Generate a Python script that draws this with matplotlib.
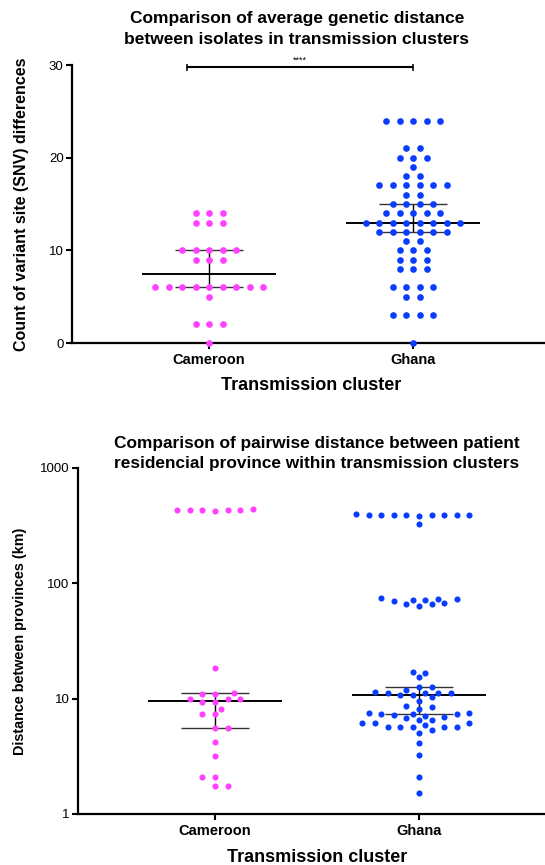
import numpy as np
import matplotlib
matplotlib.use('Agg')
import matplotlib.pyplot as plt

plt.rcParams['font.family'] = ['Liberation Sans', 'DejaVu Sans']

# ---------------- data ----------------
groups = ['Cameroon', 'Ghana']
colors = ['#FF40FF', '#0A3CFF']

# top panel: SNV differences
snv_cameroon = [14, 14, 14, 13, 13, 13, 10, 10, 10, 10, 10, 9, 9, 9,
                6, 6, 6, 6, 6, 6, 6, 6, 6, 5, 2, 2, 2, 0]
snv_ghana = [24, 24, 24, 24, 24, 21, 21, 20, 20, 20, 19, 18, 18,
             17, 17, 17, 17, 17, 17, 16, 16, 15, 15, 15, 15,
             14, 14, 14, 14, 14, 13, 13, 13, 13, 13, 13, 13, 13,
             12, 12, 12, 12, 12, 12, 11, 11, 10, 10, 10, 9, 9, 9,
             8, 8, 8, 6, 6, 6, 6, 5, 5, 3, 3, 3, 3, 0]
snv_median = [7.5, 13]
snv_low = [6, 12]
snv_high = [10, 15]
sig_label = '****'

# bottom panel: distance between provinces (km)
dist_cameroon = [433, 444, 433, 433, 425, 436, 433, 18.3, 11.3, 11.0, 11.0,
                 9.9, 9.9, 9.9, 9.4, 9.4, 8.1, 7.3, 7.3, 5.6, 5.6, 4.2, 3.2,
                 2.1, 2.1, 1.74, 1.74]
dist_ghana = [394, 400, 394, 394, 384, 395, 392, 394, 392, 394, 327,
              67.6, 75, 71.8, 72.5, 73.5, 72, 66, 70, 66, 64,
              17.1, 16.8, 15.3, 12.6, 12.5, 12.0, 11.5, 11.2, 11.2, 11.2, 11.2,
              10.7, 10.7, 10.3, 9.6, 8.65, 8.47, 8.1, 7.5, 7.4, 7.2, 7.1, 7.4,
              7.4, 7.5, 7.0, 6.8, 6.5, 6.5, 5.9, 6.1, 6.1, 6.1, 5.7, 5.7, 5.7,
              5.7, 5.4, 5.7, 5.07, 4.13, 3.23, 2.08, 1.52]
dist_median = [9.6, 10.7]
dist_low = [5.6, 7.35]
dist_high = [11.3, 12.6]

# ---------------- helpers ----------------
def swarm_x(ax, xc, values, step_px, dmin_px, rows):
    vals = np.asarray(values, dtype=float)
    pts = ax.transData.transform(np.column_stack([np.full(len(vals), xc), vals]))
    x0 = pts[0, 0]
    ys = pts[:, 1]
    order = np.argsort(ys, kind='stable')
    off = np.zeros(len(vals))
    if rows:
        grp = []
        for i in order:
            if grp and abs(ys[i] - ys[grp[-1][0]]) < 1.0:
                grp[-1].append(i)
            else:
                grp.append([i])
        for g in grp:
            n = len(g)
            for k, i in enumerate(g):
                off[i] = (k - (n - 1) / 2) * step_px
    else:
        placed = []
        flip = False
        for i in order:
            cands = [0.0]
            for k in range(1, 80):
                a, b = k * step_px / 2, -k * step_px / 2
                cands += [b, a] if flip else [a, b]
            for c in cands:
                if all((c - px) ** 2 + (ys[i] - py) ** 2 >= dmin_px ** 2 for px, py in placed):
                    break
            if c != 0:
                flip = not flip
            off[i] = c
            placed.append((c, ys[i]))
    data = ax.transData.inverted().transform(np.column_stack([x0 + off, ys]))
    return data[:, 0]


def style_axes(ax):
    for s in ['top', 'right']:
        ax.spines[s].set_visible(False)
    for s in ['left', 'bottom']:
        ax.spines[s].set_linewidth(1.6)
    ax.tick_params(axis='both', which='major', length=4.5, width=1.5, direction='out')
    ax.tick_params(axis='y', labelsize=9.5, pad=1.5)
    ax.tick_params(axis='x', labelsize=10.5, pad=2.5)
    ax.set_xticks(range(len(groups)))
    ax.set_xticklabels(groups, fontweight='bold')


def summary(ax, med, lo, hi):
    for i in range(len(groups)):
        ax.hlines(med[i], i - 0.33, i + 0.33, color='black', lw=1.4, zorder=2)
        ax.vlines(i, lo[i], hi[i], color='black', lw=1.0, zorder=2)
        ax.hlines([lo[i], hi[i]], i - 0.167, i + 0.167, color='#333333', lw=1.0, zorder=2)


W, H = 545, 865
fig = plt.figure(figsize=(W / 100, H / 100), dpi=100)

# ---------------- top panel ----------------
ax1 = fig.add_axes([72 / W, 1 - 343 / H, (W - 72) / W, (343 - 65) / H])
ax1.set_xlim(-0.6716, 1.647)
ax1.set_ylim(0, 30)
ax1.set_yticks([0, 10, 20, 30])
style_axes(ax1)
for i, vals in enumerate([snv_cameroon, snv_ghana]):
    xs = swarm_x(ax1, i, vals, 13.5, 7.5, rows=True)
    ax1.scatter(xs, vals, s=4.8 ** 2, color=colors[i], linewidths=0, zorder=3, clip_on=False)
summary(ax1, snv_median, snv_low, snv_high)
ax1.plot([-0.11, 1.0], [29.75, 29.75], color='black', lw=1.5, clip_on=False,
         solid_capstyle='butt')
ax1.plot([-0.11, -0.11], [29.45, 30.05], color='black', lw=1.2, clip_on=False)
ax1.plot([1.0, 1.0], [29.45, 30.05], color='black', lw=1.2, clip_on=False)
ax1.text(0.445, 30.05, sig_label, ha='center', va='bottom', fontsize=6.5)

fig.text(297 / W, 1 - 18 / H, 'Comparison of average genetic distance',
         ha='center', va='center', fontsize=12.5, fontweight='bold')
fig.text(297 / W, 1 - 40 / H, 'between isolates in transmission clusters',
         ha='center', va='center', fontsize=12.5, fontweight='bold')
fig.text(22 / W, 1 - 204 / H, 'Count of variant site (SNV) differences',
         ha='center', va='center', rotation=90, fontsize=11.5, fontweight='bold')
fig.text(311 / W, 1 - 386 / H, 'Transmission cluster',
         ha='center', va='center', fontsize=13, fontweight='bold')

# ---------------- bottom panel ----------------
ax2 = fig.add_axes([78 / W, 1 - 814 / H, (W - 78) / W, (814 - 468) / H])
ax2.set_yscale('log')
ax2.set_xlim(-0.6716, 1.617)
ax2.set_ylim(1, 1000)
ax2.set_yticks([1, 10, 100, 1000])
ax2.set_yticklabels(['1', '10', '100', '1000'])
ax2.yaxis.set_minor_locator(matplotlib.ticker.NullLocator())
style_axes(ax2)
for i, vals in enumerate([dist_cameroon, dist_ghana]):
    xs = swarm_x(ax2, i, vals, 12.6, 7.5, rows=False)
    ax2.scatter(xs, vals, s=4.4 ** 2, color=colors[i], linewidths=0, zorder=3, clip_on=False)
summary(ax2, dist_median, dist_low, dist_high)

fig.text(317 / W, 1 - 444 / H, 'Comparison of pairwise distance between patient',
         ha='center', va='center', fontsize=12.4, fontweight='bold')
fig.text(317 / W, 1 - 464 / H, 'residencial province within transmission clusters',
         ha='center', va='center', fontsize=12.4, fontweight='bold')
fig.text(20 / W, 1 - 641 / H, 'Distance between provinces (km)',
         ha='center', va='center', rotation=90, fontsize=10.4, fontweight='bold')
fig.text(317 / W, 1 - 857 / H, 'Transmission cluster',
         ha='center', va='center', fontsize=13, fontweight='bold')

fig.savefig('out.png', dpi=100)
